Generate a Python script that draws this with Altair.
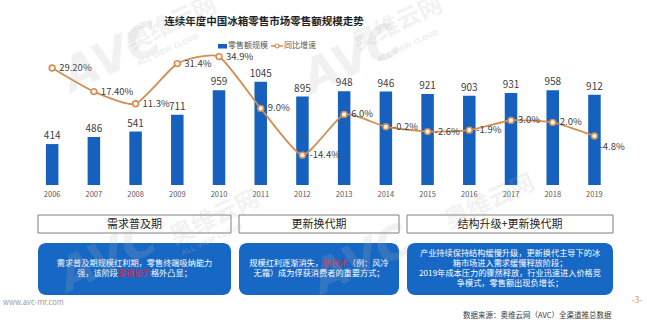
import altair as alt
import pandas as pd

FONT = "Noto Sans CJK SC"

# ---------------- data ----------------
years = ["2006", "2007", "2008", "2009", "2010", "2011", "2012",
         "2013", "2014", "2015", "2016", "2017", "2018", "2019"]
sales = [414, 486, 541, 711, 959, 1045, 895, 948, 946, 921, 903, 931, 958, 912]
growth = [29.2, 17.4, 11.3, 31.4, 34.9, 9.0, -14.4, 6.0, -0.2, -2.6, -1.9, 3.0, 2.0, -4.8]
growth_labels = ["29.20%", "17.40%", "11.3%", "31.4%", "34.9%", "9.0%", "-14.4%",
                 "6.0%", "-0.2%", "-2.6%", "-1.9%", "3.0%", "2.0%", "-4.8%"]

title_text = "连续年度中国冰箱零售市场零售额规模走势"
legend_labels = ["零售额规模", "同比增速"]
phase_titles = ["需求普及期", "更新换代期", "结构升级+更新换代期"]
# each phase: list of lines, each line a list of (text, highlighted)
phase_texts = [
    [[("需求普及期规模红利期，零售终端吸纳能力", False)],
     [("强，该阶段", False), ("渠道能力", True), ("格外凸显；", False)]],
    [[("规模红利逐渐消失，", False), ("新技术", True), ("（例：风冷", False)],
     [("无霜）成为俘获消费者的重要方式；", False)]],
    [[("产业持续保持结构缓慢升级，更新换代主导下的冰", False)],
     [("箱市场进入需求缓慢释放阶段；", False)],
     [("2019年成本压力的骤然释放，行业迅速进入价格竞", False)],
     [("争模式，零售额出现负增长；", False)]],
]
site_text = "www.avc-mr.com"
source_text = "数据来源：奥维云网（AVC）全渠道推总数据"
page_text = "-3-"
wm_texts = ["AVC", "奥维云网", "ALL VIEW CLOUD"]

# ---------------- styles / layout ----------------
BLUE = "#1660BE"
BOX_BLUE = "#1767C4"
ORANGE = "#D28E55"
RED = "#F0202C"
W, H = 647, 325

df = pd.DataFrame({"year": years, "sales": sales, "growth": growth, "glabel": growth_labels})

X = alt.X("year:O", axis=None,
          scale=alt.Scale(range=[31.3, 615.3], paddingInner=0.7, paddingOuter=0.35))
Y_BAR = alt.Y("sales:Q", axis=None,
              scale=alt.Scale(domain=[-1417, 1872], zero=False, nice=False))
Y_LINE = alt.Y("growth:Q", axis=None,
               scale=alt.Scale(domain=[-99.3, 63.2], zero=False, nice=False))

base = alt.Chart(df)

bars = base.mark_bar(color=BLUE).encode(x=X, y=Y_BAR, y2=alt.datum(0))
bar_labels = base.mark_text(font=FONT, fontSize=10, color="#404040",
                            baseline="bottom", dy=-3).encode(x=X, y=Y_BAR, text="sales:Q")
year_labels = base.mark_text(font=FONT, fontSize=7.5, color="#595959").encode(
    x=X, y=alt.value(195), text="year:O")

bar_group = alt.layer(bars, bar_labels, year_labels)

line = base.mark_line(color=ORANGE, strokeWidth=1.8, interpolate="cardinal",
                      tension=0.45).encode(x=X, y=Y_LINE)
pts = base.mark_point(shape="circle", filled=True, fill="#FFF8EE", stroke=ORANGE,
                      strokeWidth=1.6, size=34, opacity=1).encode(x=X, y=Y_LINE)
glab = base.mark_text(font=FONT, fontSize=9.5, color="#404040", align="left",
                      baseline="middle", dx=7).encode(
    x=X, y=Y_LINE, text="glabel:N").transform_filter(alt.datum.year != "2019")
glab_last = base.mark_text(font=FONT, fontSize=9.5, color="#404040", align="left",
                           baseline="middle", dx=5, dy=11).encode(
    x=X, y=Y_LINE, text="glabel:N").transform_filter(alt.datum.year == "2019")
line_group = alt.layer(line, pts, glab, glab_last)

# ---------- decorative / annotation layers (pixel layout) ----------
px = lambda f: alt.X(f, type="quantitative", scale=None, axis=None)
py = lambda f: alt.Y(f, type="quantitative", scale=None, axis=None)

# phase boxes
box_x = [38, 239, 407]
box_x2 = [231, 399, 613]
head_df = pd.DataFrame({"x": box_x, "x2": box_x2, "y": [215] * 3, "y2": [233] * 3,
                        "t": phase_titles})
heads = alt.Chart(head_df).mark_rect(fill="white", stroke="#7F7F7F", strokeWidth=1).encode(
    x=px("x"), x2="x2", y=py("y"), y2="y2")
head_txt = alt.Chart(head_df).transform_calculate(cx="(datum.x + datum.x2) / 2").mark_text(
    font=FONT, fontSize=11, color="#262626", baseline="middle").encode(
    x=px("cx"), y=alt.value(224.5), text="t:N")

blue_df = pd.DataFrame({"x": box_x, "x2": box_x2, "y": [243] * 3, "y2": [295] * 3})
blue_boxes = alt.Chart(blue_df).mark_rect(fill=BOX_BLUE, cornerRadius=8).encode(
    x=px("x"), x2="x2", y=py("y"), y2="y2")

# text segments inside the blue boxes
seg_rows = []
FS = 8.2
LH = 9.8
for i, lines in enumerate(phase_texts):
    cx = (box_x[i] + box_x2[i]) / 2
    cy = 269
    n = len(lines)
    for j, segs in enumerate(lines):
        y = cy + (j - (n - 1) / 2) * LH
        if len(segs) == 1:
            seg_rows.append({"x": cx, "y": y, "t": segs[0][0], "hl": segs[0][1], "al": "center"})
        else:
            total = sum(len(s) for s, _ in segs) * FS
            x0 = cx - total / 2
            for s, hl in segs:
                seg_rows.append({"x": x0, "y": y, "t": s, "hl": hl, "al": "left"})
                x0 += len(s) * FS
seg_df = pd.DataFrame(seg_rows)
seg_center = alt.Chart(seg_df).transform_filter(alt.datum.al == "center").mark_text(
    font=FONT, fontSize=FS, color="white", baseline="middle", align="center").encode(
    x=px("x"), y=py("y"), text="t:N")
seg_left = alt.Chart(seg_df).transform_filter(alt.datum.al == "left").mark_text(
    font=FONT, fontSize=FS, baseline="middle", align="left").encode(
    x=px("x"), y=py("y"), text="t:N",
    color=alt.Color("hl:N", scale=alt.Scale(domain=[False, True], range=["white", RED]),
                    legend=None))

# faint watermarks (logo, Chinese name, English tagline) in a few places
wm_rows = [
    {"x": 112, "y": 58, "t": wm_texts[0], "k": "logo"},
    {"x": 172, "y": 24, "t": wm_texts[1], "k": "cn"},
    {"x": 168, "y": 50, "t": wm_texts[2], "k": "en"},
    {"x": 352, "y": 60, "t": wm_texts[0], "k": "logo"},
    {"x": 398, "y": 24, "t": wm_texts[1], "k": "cn"},
    {"x": 408, "y": 46, "t": wm_texts[2], "k": "en"},
    {"x": 108, "y": 258, "t": wm_texts[0], "k": "logo"},
    {"x": 215, "y": 218, "t": wm_texts[1], "k": "cn"},
    {"x": 212, "y": 240, "t": wm_texts[2], "k": "en"},
    {"x": 362, "y": 260, "t": wm_texts[0], "k": "logo"},
    {"x": 490, "y": 202, "t": wm_texts[1], "k": "cn"},
]
wm_df = pd.DataFrame(wm_rows)
wm_logo = alt.Chart(wm_df).transform_filter(alt.datum.k == "logo").mark_text(
    font="DejaVu Sans", fontSize=46, fontWeight="bold", fontStyle="italic",
    color="#B4B4B4", opacity=0.18, angle=335).encode(x=px("x"), y=py("y"), text="t:N")
wm_cn = alt.Chart(wm_df).transform_filter(alt.datum.k == "cn").mark_text(
    font=FONT, fontSize=24, fontWeight="bold",
    color="#B4B4B4", opacity=0.16, angle=335).encode(x=px("x"), y=py("y"), text="t:N")
wm_en = alt.Chart(wm_df).transform_filter(alt.datum.k == "en").mark_text(
    font="DejaVu Sans", fontSize=7, fontWeight="bold",
    color="#B4B4B4", opacity=0.22, angle=335).encode(x=px("x"), y=py("y"), text="t:N")

# title
title = alt.Chart(pd.DataFrame({"t": [title_text]})).mark_text(
    font=FONT, fontSize=10.5, fontWeight="bold", color="#1F1F1F").encode(
    x=alt.value(264), y=alt.value(22), text="t:N")

# legend
leg_df = pd.DataFrame({"t": legend_labels, "x": [228, 284]})
leg_rect = alt.Chart(leg_df.iloc[:1]).mark_rect(color=BLUE).encode(
    x=alt.value(218), x2=alt.value(227), y=alt.value(44), y2=alt.value(48.5))
leg_rule = alt.Chart(leg_df.iloc[1:]).mark_rule(color=ORANGE, strokeWidth=1.5).encode(
    x=alt.value(271), x2=alt.value(283), y=alt.value(46))
leg_pt = alt.Chart(leg_df.iloc[1:]).mark_point(shape="circle", filled=True, fill="#FFF8EE",
                                                stroke=ORANGE, strokeWidth=1.2, size=16,
                                                opacity=1).encode(
    x=alt.value(277), y=alt.value(46))
leg_txt = alt.Chart(leg_df).mark_text(font=FONT, fontSize=8, color="#595959",
                                      align="left", baseline="middle").encode(
    x=px("x"), y=alt.value(46), text="t:N")

# footer
foot_df = pd.DataFrame({"t": [site_text, source_text], "x": [3, 463], "y": [303, 316]})
foot = alt.Chart(foot_df).mark_text(font=FONT, fontSize=7.5, align="left",
                                    baseline="middle").encode(
    x=px("x"), y=py("y"), text="t:N",
    color=alt.Color("t:N", scale=alt.Scale(domain=[site_text, source_text],
                                           range=["#9A9A9A", "#3A3A3A"]), legend=None))
page = alt.Chart(pd.DataFrame({"t": [page_text]})).mark_text(
    font=FONT, fontSize=9, color="#E8A060").encode(
    x=alt.value(637), y=alt.value(300), text="t:N")

chart = alt.layer(
    heads, head_txt, blue_boxes, seg_center, seg_left,
    bar_group, line_group,
    title, leg_rect, leg_rule, leg_pt, leg_txt, foot, page,
    wm_logo, wm_cn, wm_en,
).resolve_scale(y="independent", color="independent").properties(
    width=W, height=H,
    autosize=alt.AutoSizeParams(type="none"),
    padding=0,
    background="white",
).configure_view(stroke=None)

chart.save("out.html", embed_options={"renderer": "svg", "actions": False})
